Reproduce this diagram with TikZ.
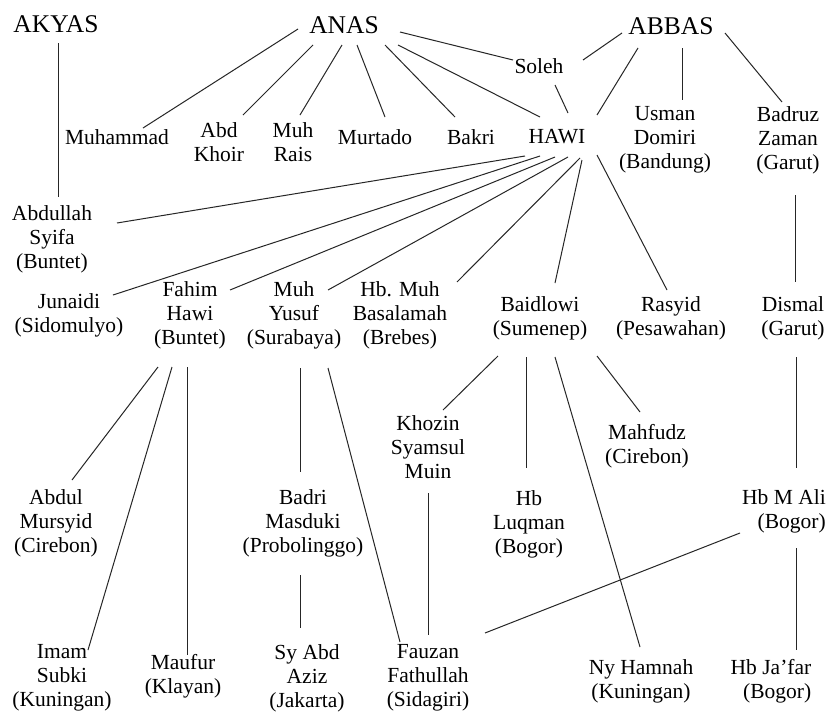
\documentclass[tikz,border=0pt]{standalone}
\usepackage{fontspec}
\setmainfont{Liberation Serif}
\usetikzlibrary{calc}
\begin{document}
\begin{tikzpicture}[x=1pt,y=-1pt,
  pname/.style={inner sep=0pt,align=center,text=black,font=\fontsize{21.5}{24}\selectfont},
  rpname/.style={pname,align=right},
  ptitle/.style={inner sep=0pt,text=black,font=\fontsize{25.5}{28}\selectfont},
  plink/.style={draw=black!85,line width=1pt}]
\useasboundingbox[fill=white] (0,0) rectangle (830,718);
% top row
\node[ptitle] (akyas) at (56,24) {AKYAS};
\node[ptitle] (anas) at (344,25) {ANAS};
\node[ptitle] (abbas) at (671,26) {ABBAS};
\node[pname] (soleh) at (539,66) {Soleh};
% second row
\node[pname] (muhammad) at (117,137) {Muhammad};
\node[pname] (abdkhoir) at (219,142) {Abd\\Khoir};
\node[pname] (muhrais) at (293,142) {Muh\\Rais};
\node[pname] (murtado) at (375,137) {Murtado};
\node[pname] (bakri) at (471,137) {Bakri};
\node[pname] (hawi) at (557,137) {HAWI};
\node[pname] (usman) at (665,140) {Usman\\Domiri\\(Bandung)};
\node[pname] (badruz) at (788,140) {Badruz\\Zaman\\(Garut)};
% third row
\node[pname] (abdullah) at (52,239) {Abdullah\\Syifa\\(Buntet)};
\node[pname] (junaidi) at (69,315) {Junaidi\\(Sidomulyo)};
\node[pname] (fahim) at (190,315) {Fahim\\Hawi\\(Buntet)};
\node[pname] (yusuf) at (294,315) {Muh\\Yusuf\\(Surabaya)};
\node[pname] (basalamah) at (400,315) {Hb. Muh\\Basalamah\\(Brebes)};
\node[pname] (baidlowi) at (540,318) {Baidlowi\\(Sumenep)};
\node[pname] (rasyid) at (671,318) {Rasyid\\(Pesawahan)};
\node[pname] (dismal) at (793,318) {Dismal\\(Garut)};
% fourth row
\node[pname] (khozin) at (428,447) {Khozin\\Syamsul\\Muin};
\node[pname] (mahfudz) at (647,446) {Mahfudz\\(Cirebon)};
\node[pname] (mursyid) at (56,523) {Abdul\\Mursyid\\(Cirebon)};
\node[pname] (badri) at (303,523) {Badri\\Masduki\\(Probolinggo)};
\node[pname] (luqman) at (529,524) {Hb\\Luqman\\(Bogor)};
\node[rpname] (mali) at (784,511) {Hb M Ali\\(Bogor)};
% bottom row
\node[pname] (imam) at (62,678) {Imam\\Subki\\(Kuningan)};
\node[pname] (maufur) at (183,676) {Maufur\\(Klayan)};
\node[pname] (aziz) at (307,678) {Sy Abd\\Aziz\\(Jakarta)};
\node[pname] (fauzan) at (428,678) {Fauzan\\Fathullah\\(Sidagiri)};
\node[pname] (hamnah) at (641,681) {Ny Hamnah\\(Kuningan)};
\node[rpname] (jafar) at (771,681) {Hb Ja'far\\(Bogor)};
% connectors
\draw[plink] ($(akyas)+(2,19)$) -- ($(abdullah)+(6,-42)$);
\draw[plink] ($(anas)+(-46,4)$) -- ($(muhammad)+(26,-9)$);
\draw[plink] ($(anas)+(-31,20)$) -- ($(abdkhoir)+(24,-27)$);
\draw[plink] ($(anas)+(-2,20)$) -- ($(muhrais)+(7,-27)$);
\draw[plink] ($(anas)+(13,20)$) -- ($(murtado)+(10,-20)$);
\draw[plink] ($(anas)+(41,20)$) -- ($(bakri)+(-16,-20)$);
\draw[plink] ($(anas)+(54,20)$) -- ($(hawi)+(-17,-20)$);
\draw[plink] ($(anas)+(56,7)$) -- ($(soleh)+(-26,-6)$);
\draw[plink] ($(abbas)+(-49,7)$) -- ($(soleh)+(44,-6)$);
\draw[plink] ($(soleh)+(16,19)$) -- ($(hawi)+(11,-24)$);
\draw[plink] ($(abbas)+(-33,22)$) -- ($(hawi)+(40,-22)$);
\draw[plink] ($(abbas)+(11,22)$) -- ($(usman)+(17,-40)$);
\draw[plink] ($(abbas)+(54,7)$) -- ($(badruz)+(-6,-38)$);
\draw[plink] ($(badruz)+(7,55)$) -- ($(dismal)+(2,-36)$);
\draw[plink] ($(hawi)+(-32,19)$) -- ($(abdullah)+(65,-16)$);
\draw[plink] ($(hawi)+(-17,19)$) -- ($(junaidi)+(44,-20)$);
\draw[plink] ($(hawi)+(-2,20)$) -- ($(fahim)+(40,-25)$);
\draw[plink] ($(hawi)+(11,20)$) -- ($(yusuf)+(34,-25)$);
\draw[plink] ($(hawi)+(23,21)$) -- ($(basalamah)+(57,-33)$);
\draw[plink] ($(hawi)+(25,23)$) -- ($(baidlowi)+(15,-35)$);
\draw[plink] ($(hawi)+(40,18)$) -- ($(rasyid)+(-4,-28)$);
\draw[plink] ($(fahim)+(-32,52)$) -- ($(mursyid)+(16,-43)$);
\draw[plink] ($(fahim)+(-18,52)$) -- ($(imam)+(26,-28)$);
\draw[plink] ($(fahim)+(-3,52)$) -- ($(maufur)+(4,-21)$);
\draw[plink] ($(yusuf)+(6,53)$) -- ($(badri)+(-3,-51)$);
\draw[plink] ($(yusuf)+(34,53)$) -- ($(fauzan)+(-28,-36)$);
\draw[plink] ($(badri)+(-3,52)$) -- ($(aziz)+(-7,-50)$);
\draw[plink] ($(baidlowi)+(-42,38)$) -- ($(khozin)+(15,-37)$);
\draw[plink] ($(baidlowi)+(-14,39)$) -- ($(luqman)+(-3,-56)$);
\draw[plink] ($(baidlowi)+(15,39)$) -- ($(hamnah)+(-1,-34)$);
\draw[plink] ($(baidlowi)+(57,38)$) -- ($(mahfudz)+(-7,-34)$);
\draw[plink] ($(dismal)+(3,39)$) -- ($(mali)+(12,-43)$);
\draw[plink] ($(mali)+(-44,22)$) -- ($(fauzan)+(57,-45)$);
\draw[plink] ($(mali)+(12,37)$) -- ($(jafar)+(25,-31)$);
\draw[plink] ($(khozin)+(0,46)$) -- ($(fauzan)+(0,-43)$);
\end{tikzpicture}
\end{document}
